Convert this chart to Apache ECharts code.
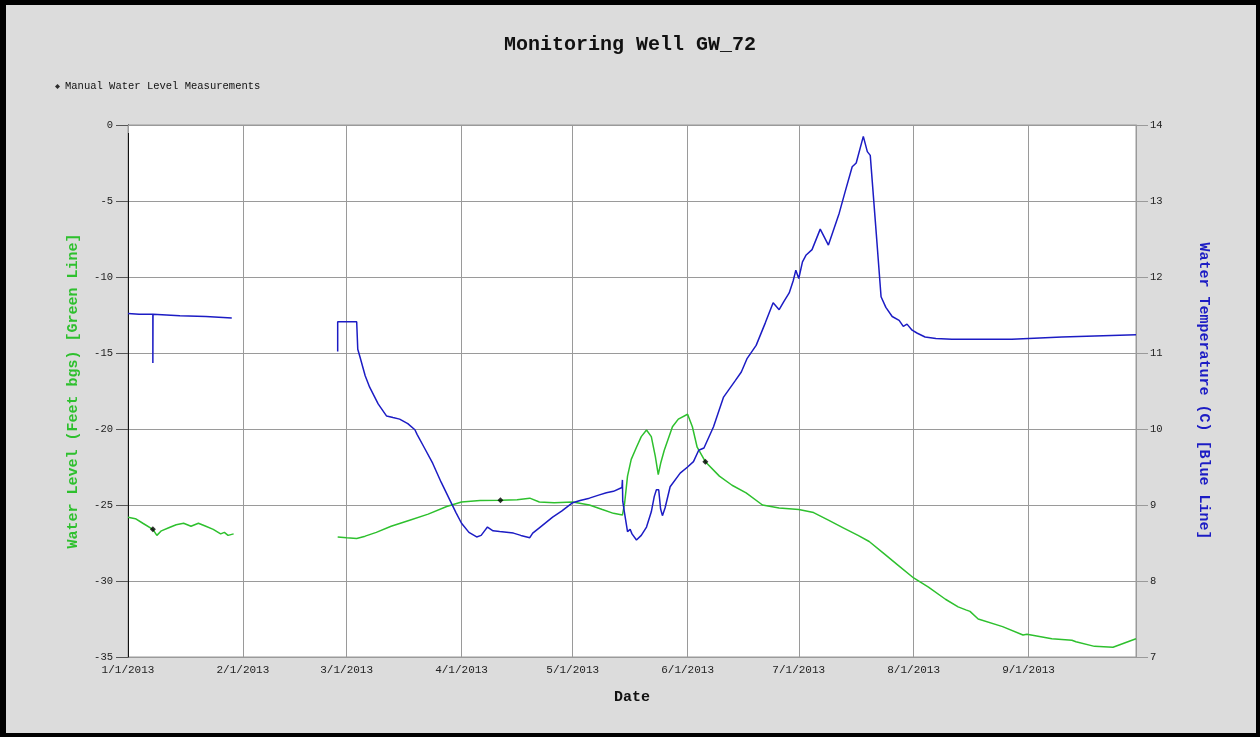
<!DOCTYPE html>
<html>
<head>
<meta charset="utf-8">
<script src="https://cdn.jsdelivr.net/npm/echarts@6/dist/echarts.min.js"></script>
<style>
html,body{margin:0;padding:0;background:#dcdcdc;}
#chart{width:1260px;height:737px;}
</style>
</head>
<body>
<div id="chart"></div>
<script>
// ---- Data ----
const titleText = 'Monitoring Well GW_72';
const legendName = 'Manual Water Level Measurements';
const leftAxisName = 'Water Level (Feet bgs) [Green Line]';
const rightAxisName = 'Water Temperature (C) [Blue Line]';
const xAxisName = 'Date';

// Water level (green), first logger segment
const greenDates1 = ['2013-01-01 00:00','2013-01-03 00:00','2013-01-05 00:00','2013-01-07 17:00','2013-01-08 19:00','2013-01-10 00:00','2013-01-12 00:00','2013-01-14 00:00','2013-01-16 00:00','2013-01-18 00:00','2013-01-20 00:00','2013-01-22 00:00','2013-01-24 00:00','2013-01-26 00:00','2013-01-27 00:00','2013-01-28 00:00','2013-01-29 12:00'];
const greenLevels1 = [-25.8,-25.9,-26.2,-26.6,-27.0,-26.7,-26.5,-26.3,-26.2,-26.4,-26.2,-26.4,-26.6,-26.9,-26.8,-27.0,-26.9];

// Water level (green), second logger segment
const greenDates2 = ['2013-02-26 14:00','2013-03-01 00:00','2013-03-03 17:00','2013-03-06 00:00','2013-03-09 00:00','2013-03-13 00:00','2013-03-18 00:00','2013-03-23 00:00','2013-03-28 00:00','2013-04-01 00:00','2013-04-06 00:00','2013-04-11 12:00','2013-04-16 00:00','2013-04-19 10:00','2013-04-22 00:00','2013-04-26 00:00','2013-05-01 00:00','2013-05-05 12:00','2013-05-09 00:00','2013-05-12 00:00','2013-05-14 10:00','2013-05-15 00:00','2013-05-15 19:00','2013-05-16 19:00','2013-05-18 05:00','2013-05-19 12:00','2013-05-20 22:00','2013-05-22 05:00','2013-05-23 07:00','2013-05-24 02:00','2013-05-24 19:00','2013-05-25 17:00','2013-05-27 22:00','2013-05-29 12:00','2013-06-01 00:00','2013-06-02 07:00','2013-06-03 14:00','2013-06-05 19:00','2013-06-09 14:00','2013-06-13 00:00','2013-06-16 19:00','2013-06-21 05:00','2013-06-25 17:00','2013-07-01 00:00','2013-07-05 00:00','2013-07-09 00:00','2013-07-13 00:00','2013-07-17 00:00','2013-07-20 00:00','2013-07-24 00:00','2013-07-28 00:00','2013-08-01 00:00','2013-08-05 00:00','2013-08-09 14:00','2013-08-13 00:00','2013-08-15 02:00','2013-08-16 05:00','2013-08-18 10:00','2013-08-25 00:00','2013-08-30 12:00','2013-08-31 14:00','2013-09-07 07:00','2013-09-12 17:00','2013-09-13 19:00','2013-09-18 19:00','2013-09-23 19:00','2013-09-30 00:00'];
const greenLevels2 = [-27.1,-27.15,-27.2,-27.05,-26.8,-26.4,-26.0,-25.6,-25.1,-24.8,-24.7,-24.68,-24.65,-24.55,-24.8,-24.85,-24.8,-25.0,-25.3,-25.55,-25.66,-24.9,-23.1,-22.0,-21.2,-20.5,-20.07,-20.5,-21.8,-23.0,-22.2,-21.4,-19.85,-19.35,-19.03,-19.85,-21.2,-22.15,-23.1,-23.7,-24.2,-25.0,-25.2,-25.3,-25.5,-26.0,-26.5,-27.0,-27.4,-28.2,-29.0,-29.8,-30.4,-31.2,-31.7,-31.9,-32.0,-32.5,-33.0,-33.55,-33.5,-33.8,-33.9,-34.0,-34.3,-34.36,-33.8];

// Water temperature (blue), first logger segment
const blueDates1 = ['2013-01-01 00:00','2013-01-04 00:00','2013-01-07 17:00','2013-01-07 17:00','2013-01-07 18:00','2013-01-15 00:00','2013-01-22 00:00','2013-01-29 00:00'];
const blueTemps1 = [11.52,11.51,11.51,10.87,11.51,11.49,11.48,11.46];

// Water temperature (blue), second logger segment
const blueDates2 = ['2013-02-26 14:00','2013-02-26 14:00','2013-03-03 17:00','2013-03-04 00:00','2013-03-04 14:00','2013-03-06 00:00','2013-03-07 05:00','2013-03-09 12:00','2013-03-11 19:00','2013-03-13 12:00','2013-03-15 07:00','2013-03-17 12:00','2013-03-19 10:00','2013-03-20 00:00','2013-03-22 00:00','2013-03-24 05:00','2013-03-26 12:00','2013-03-28 19:00','2013-03-30 12:00','2013-04-01 00:00','2013-04-03 00:00','2013-04-05 02:00','2013-04-06 07:00','2013-04-07 05:00','2013-04-08 00:00','2013-04-09 12:00','2013-04-11 07:00','2013-04-15 00:00','2013-04-17 00:00','2013-04-19 10:00','2013-04-20 05:00','2013-04-22 00:00','2013-04-25 14:00','2013-04-28 00:00','2013-05-01 00:00','2013-05-03 00:00','2013-05-05 12:00','2013-05-08 00:00','2013-05-10 02:00','2013-05-12 00:00','2013-05-14 07:00','2013-05-14 10:00','2013-05-14 12:00','2013-05-15 00:00','2013-05-15 19:00','2013-05-16 12:00','2013-05-17 00:00','2013-05-18 05:00','2013-05-19 12:00','2013-05-20 22:00','2013-05-22 05:00','2013-05-23 00:00','2013-05-23 14:00','2013-05-24 05:00','2013-05-24 17:00','2013-05-25 05:00','2013-05-25 22:00','2013-05-27 07:00','2013-05-30 00:00','2013-06-01 00:00','2013-06-02 14:00','2013-06-04 00:00','2013-06-05 10:00','2013-06-08 00:00','2013-06-10 17:00','2013-06-13 22:00','2013-06-15 12:00','2013-06-17 02:00','2013-06-19 12:00','2013-06-22 00:00','2013-06-24 02:00','2013-06-25 17:00','2013-06-27 00:00','2013-06-28 10:00','2013-06-29 12:00','2013-06-30 05:00','2013-07-01 00:00','2013-07-02 00:00','2013-07-03 00:00','2013-07-04 14:00','2013-07-06 19:00','2013-07-09 00:00','2013-07-11 22:00','2013-07-13 12:00','2013-07-15 10:00','2013-07-16 12:00','2013-07-18 10:00','2013-07-19 12:00','2013-07-20 07:00','2013-07-21 22:00','2013-07-23 05:00','2013-07-24 12:00','2013-07-26 05:00','2013-07-28 02:00','2013-07-29 05:00','2013-07-30 05:00','2013-07-31 14:00','2013-08-02 00:00','2013-08-04 02:00','2013-08-07 00:00','2013-08-11 07:00','2013-08-27 12:00','2013-09-10 00:00','2013-09-30 00:00'];
const blueTemps2 = [11.02,11.41,11.41,11.05,10.95,10.7,10.55,10.33,10.17,10.15,10.13,10.07,9.99,9.93,9.75,9.55,9.3,9.07,8.9,8.76,8.64,8.58,8.6,8.66,8.71,8.66,8.65,8.63,8.6,8.57,8.63,8.7,8.84,8.92,9.03,9.06,9.09,9.13,9.16,9.18,9.23,9.33,9.05,8.89,8.65,8.68,8.62,8.54,8.6,8.71,8.91,9.11,9.2,9.2,8.95,8.86,8.96,9.24,9.42,9.5,9.57,9.72,9.75,10.03,10.42,10.64,10.75,10.93,11.1,11.4,11.66,11.57,11.68,11.79,11.95,12.09,11.98,12.2,12.29,12.36,12.63,12.42,12.84,13.12,13.45,13.5,13.85,13.65,13.6,12.57,11.74,11.6,11.48,11.43,11.35,11.38,11.3,11.26,11.21,11.19,11.18,11.18,11.21,11.24];

// Manual water level measurements (black markers)
const manualDates = ['2013-01-07 17:00','2013-04-11 12:00','2013-06-05 19:00'];
const manualLevels = [-26.6,-24.68,-22.15];

// Axis ranges
const xMin = '2013-01-01';
const xMax = '2013-09-30';
const levelMin = -35, levelMax = 0, levelStep = 5;
const tempMin = 7, tempMax = 14, tempStep = 1;

// ---- Build chart ----
const zip = (a, b) => a.map((d, i) => [d, b[i]]);
const MONO = '"Liberation Mono", "Courier New", monospace';
const GREEN = '#2ec02e';
const BLUE = '#1c1cc4';
const GRID = '#9a9a9a';

const chart = echarts.init(document.getElementById('chart'), null, {renderer: 'canvas'});
chart.setOption({
  backgroundColor: '#dcdcdc',
  animation: false,
  title: {
    text: titleText, left: 'center', top: 30,
    textStyle: {fontFamily: MONO, fontSize: 20, fontWeight: 'bold', color: '#111'}
  },
  legend: {
    data: [legendName], left: 50, top: 76, itemWidth: 5, itemHeight: 5, itemGap: 4,
    textStyle: {fontFamily: MONO, fontSize: 10.5, color: '#111'}
  },
  grid: {left: 128, right: 124, top: 125, bottom: 80, show: true, backgroundColor: '#ffffff', borderWidth: 1, borderColor: GRID},
  graphic: [
    {type: 'rect', shape: {x: 0, y: 0, width: 6, height: 737}, style: {fill: '#000'}},
    {type: 'rect', shape: {x: 0, y: 0, width: 1260, height: 5}, style: {fill: '#000'}},
    {type: 'rect', shape: {x: 1256, y: 0, width: 4, height: 737}, style: {fill: '#000'}},
    {type: 'rect', shape: {x: 0, y: 733, width: 1260, height: 4}, style: {fill: '#000'}}
  ],
  xAxis: {
    type: 'time', min: xMin, max: xMax,
    minInterval: 28 * 86400000, maxInterval: 31 * 86400000,
    name: xAxisName, nameLocation: 'middle', nameGap: 33,
    nameTextStyle: {fontFamily: MONO, fontSize: 15, fontWeight: 'bold', color: '#111'},
    axisLine: {show: true, lineStyle: {color: GRID}},
    axisTick: {show: true, length: 8, lineStyle: {color: GRID}},
    splitLine: {show: true, lineStyle: {color: GRID, width: 1}},
    axisLabel: {
      fontFamily: MONO, fontSize: 11, color: '#222', margin: 8, showMaxLabel: false,
      formatter: function (v) { const d = new Date(v); return (d.getMonth() + 1) + '/' + d.getDate() + '/' + d.getFullYear(); }
    }
  },
  yAxis: [
    {
      type: 'value', min: levelMin, max: levelMax, interval: levelStep, position: 'left',
      name: leftAxisName, nameLocation: 'middle', nameGap: 47, nameRotate: 90,
      nameTextStyle: {fontFamily: MONO, fontSize: 15, fontWeight: 'bold', color: GREEN},
      axisLine: {show: true, onZero: false, lineStyle: {color: '#111'}},
      axisTick: {show: true, length: 12, lineStyle: {color: '#555'}},
      splitLine: {show: true, lineStyle: {color: GRID, width: 1}},
      axisLabel: {fontFamily: MONO, fontSize: 10.5, color: '#222', margin: 15}
    },
    {
      type: 'value', min: tempMin, max: tempMax, interval: tempStep, position: 'right',
      name: rightAxisName, nameLocation: 'middle', nameGap: 60, nameRotate: -90,
      nameTextStyle: {fontFamily: MONO, fontSize: 15, fontWeight: 'bold', color: BLUE},
      axisLine: {show: true, onZero: false, lineStyle: {color: GRID}},
      axisTick: {show: true, length: 12, lineStyle: {color: GRID}},
      splitLine: {show: false},
      axisLabel: {fontFamily: MONO, fontSize: 10.5, color: '#222', margin: 14}
    }
  ],
  series: [
    {name: 'level1', type: 'line', yAxisIndex: 0, data: zip(greenDates1, greenLevels1), showSymbol: false, lineStyle: {color: GREEN, width: 1.5}, itemStyle: {color: GREEN}, z: 3},
    {name: 'level2', type: 'line', yAxisIndex: 0, data: zip(greenDates2, greenLevels2), showSymbol: false, lineStyle: {color: GREEN, width: 1.5}, itemStyle: {color: GREEN}, z: 3},
    {name: 'temp1', type: 'line', yAxisIndex: 1, data: zip(blueDates1, blueTemps1), showSymbol: false, lineStyle: {color: BLUE, width: 1.5}, itemStyle: {color: BLUE}, z: 4},
    {name: 'temp2', type: 'line', yAxisIndex: 1, data: zip(blueDates2, blueTemps2), showSymbol: false, lineStyle: {color: BLUE, width: 1.5}, itemStyle: {color: BLUE}, z: 4},
    {name: legendName, type: 'scatter', yAxisIndex: 0, data: zip(manualDates, manualLevels), symbol: 'diamond', symbolSize: 6, itemStyle: {color: '#000'}, z: 6}
  ]
});
</script>
</body>
</html>
